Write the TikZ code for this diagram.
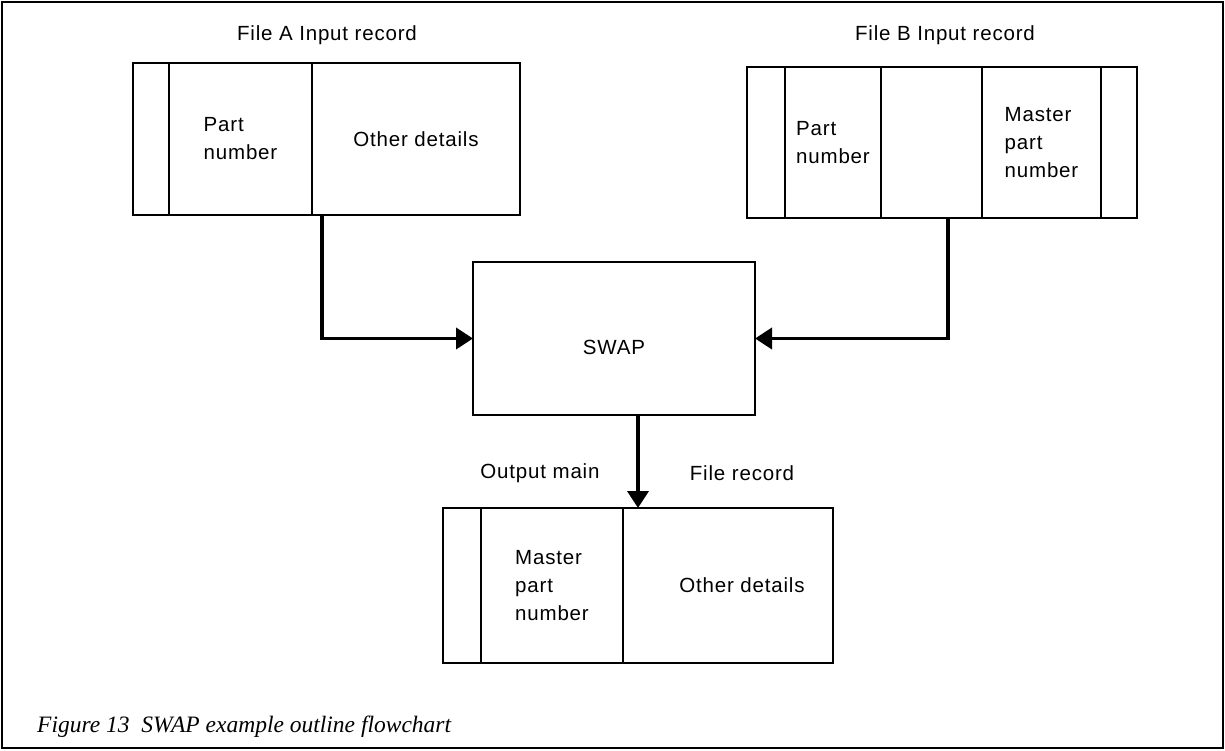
\documentclass[tikz,border=0pt]{standalone}
\usepackage{fontspec}
\setmainfont[LetterSpace=4]{Liberation Sans}
\newfontfamily\capfont{Liberation Serif}
\usetikzlibrary{arrows.meta}
\newcommand\txtfont{\fontsize{20.5}{28}\selectfont}
\begin{document}
\begin{tikzpicture}[x=1pt,y=-1pt,
  cell/.style={draw, line width=1.6pt, inner sep=0pt, outer sep=0pt,
               align=left, font=\txtfont},
  label/.style={font=\txtfont, inner sep=0pt},
  flow/.style={line width=3.8pt, -{Triangle[length=17pt,width=21pt]}}]
\useasboundingbox (0,0) rectangle (1225,751);
\draw[line width=1.8pt] (2,2) rectangle (1223,748);

% File A input record
\node[label] (titleA) at (327,35) {File A Input record};
\node[cell, minimum width=36pt,  minimum height=152pt] (a1) at (151,139) {};
\node[cell, minimum width=143pt, minimum height=152pt] (a2) at (240.5,139) {Part\\number};
\node[cell, minimum width=208pt, minimum height=152pt] (a3) at (416,139) {Other details};

% File B input record
\node[label] (titleB) at (945,35) {File B Input record};
\node[cell, minimum width=38pt,  minimum height=151pt] (b1) at (766,142.5) {};
\node[cell, minimum width=96pt,  minimum height=151pt] (b2) at (833,142.5) {Part\\number};
\node[cell, minimum width=101pt, minimum height=151pt] (b3) at (931.5,142.5) {};
\node[cell, minimum width=119pt, minimum height=151pt] (b4) at (1041.5,142.5) {Master\\part\\number};
\node[cell, minimum width=36pt,  minimum height=151pt] (b5) at (1119,142.5) {};

% process
\node[cell, minimum width=282pt, minimum height=153pt] (swap) at (614,338.5) {};
\node[label] (swaptxt) at (614,347) {SWAP};

% output main file record
\node[label] (outL) at (540,473) {Output main};
\node[label] (outR) at (742,473) {File record};
\node[cell, minimum width=38pt,  minimum height=155pt] (o1) at (462,585.5) {};
\node[cell, minimum width=142pt, minimum height=155pt] (o2) at (552,585.5) {Master\\part\\number};
\node[cell, minimum width=210pt, minimum height=155pt] (o3) at (728,585.5) {\hspace*{28pt}Other details};

% connectors
\draw[flow] ([xshift=10pt]a3.south west) |- (swap.west);
\draw[flow] ([xshift=16.5pt]b3.south) |- (swap.east);
\coordinate (drop) at ([xshift=24pt]swap.south);
\draw[flow] (drop) -- (drop |- o3.north);

% caption
\node[anchor=base west, inner sep=0pt, font=\capfont\itshape\fontsize{23.5}{28}\selectfont]
  (caption) at (37,732) {Figure 13\ \ SWAP example outline flowchart};
\end{tikzpicture}
\end{document}
